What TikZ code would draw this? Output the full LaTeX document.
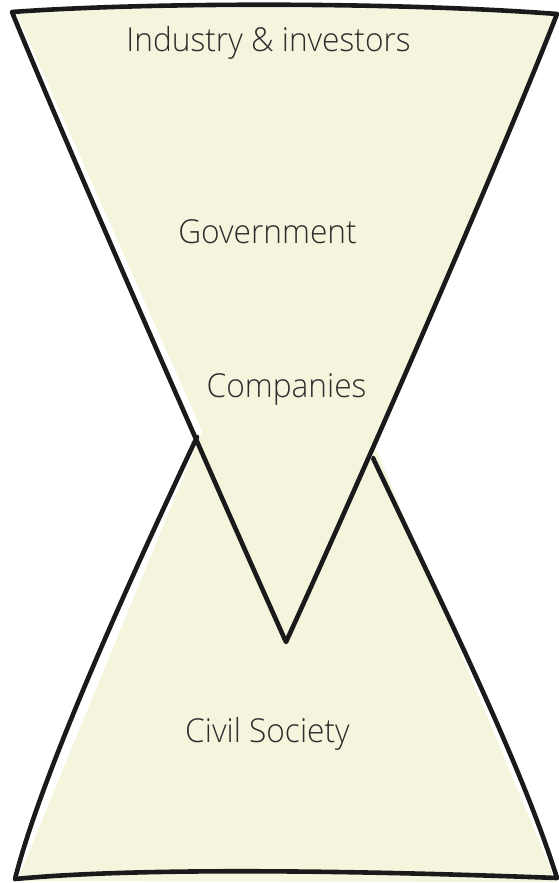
\documentclass[tikz,border=0pt]{standalone}
\usepackage{fontspec}
\setmainfont{Open Sans}[UprightFont=* Light,FakeStretch=0.96]
\definecolor{fillbeige}{RGB}{245,245,222}
\definecolor{inkline}{RGB}{26,26,26}
\definecolor{inktext}{RGB}{45,45,45}
\begin{document}
\begin{tikzpicture}[x=1pt,y=-1pt,
  outline/.style={draw=inkline,line width=4.6pt,line join=round,line cap=round},
  beige/.style={fill=fillbeige,draw=none},
  lbl/.style={anchor=base,text=inktext,font=\fontsize{33}{36}\selectfont,inner sep=0pt}]
\useasboundingbox (0,0) rectangle (558,883);
% lower shape fill
\path[beige] (17,881) -- (285,230) -- (556,882) -- cycle;
% lower outline
\draw[outline] (197,437) .. controls (120,600) and (40,780) .. (15,879)
  .. controls (150,866) and (400,872) .. (557,878)
  .. controls (520,760) and (440,600) .. (373,458);
% upper fill
\path[beige] (17,14) .. controls (150,5) and (400,5) .. (557,16) -- (295,640) -- cycle;
% upper outline
\draw[outline] (12,12) .. controls (150,2) and (400,2) .. (557,14)
  .. controls (500,160) and (360,480) .. (286,642)
  .. controls (200,450) and (60,130) .. cycle;
\node[lbl] (ind) at (268.5,52) {Industry \& investors};
\node[lbl] (gov) at (267.5,243) {Government};
\node[lbl] (com) at (286.5,397) {Companies};
\node[lbl] (civ) at (267.5,742) {Civil Society};
\end{tikzpicture}
\end{document}
